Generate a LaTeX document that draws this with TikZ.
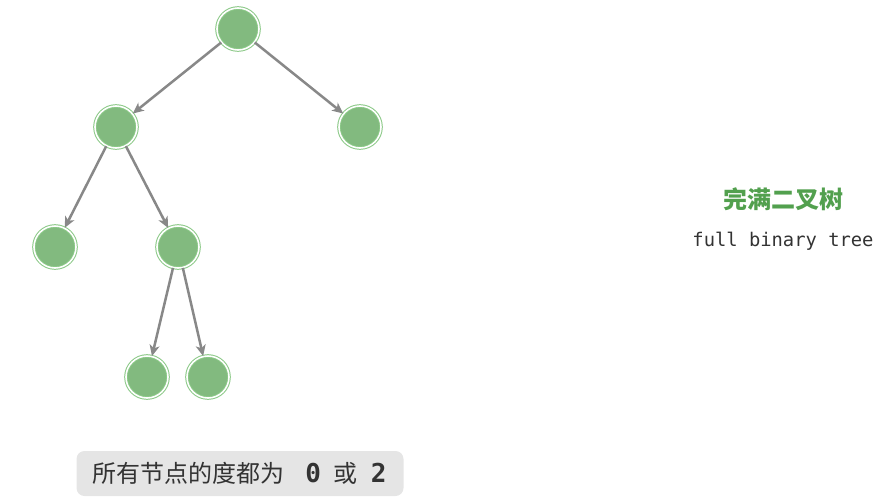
\documentclass[tikz,border=0pt]{standalone}
\usepackage{fontspec}
\setmainfont{Noto Sans CJK SC}
\setmonofont{DejaVu Sans Mono}
\definecolor{treegreen}{RGB}{130,186,127}
\definecolor{ringgreen}{RGB}{138,200,134}
\definecolor{titlegreen}{RGB}{82,160,78}
\definecolor{edgegray}{RGB}{136,136,136}
\definecolor{labelgray}{RGB}{229,229,229}
\definecolor{textgray}{RGB}{51,51,51}
\usetikzlibrary{positioning,arrows.meta}

\begin{document}
\begin{tikzpicture}[
    every node/.style={inner sep=0pt},
    tnode/.style={circle,fill=treegreen,draw=ringgreen,double=white,
        double distance=1.6pt,line width=1pt,minimum size=42pt},
    tedge/.style={draw=edgegray,line width=2.5pt,
        -{Stealth[length=11pt,width=10pt,inset=3pt]}},
    on grid
    ]
    \useasboundingbox (0pt,0pt) rectangle (884pt,-501pt);

    \node (n1) [tnode] at (238pt,-29pt) {};
    \node (n2) [tnode,below left=98pt and 122pt of n1] {};
    \node (n3) [tnode,below right=98pt and 122pt of n1] {};
    \node (n4) [tnode,below left=120pt and 61pt of n2] {};
    \node (n5) [tnode,below right=120pt and 62pt of n2] {};
    \node (n6) [tnode,below left=130pt and 31pt of n5] {};
    \node (n7) [tnode,below right=130pt and 30pt of n5] {};

    % the edges
    \draw[tedge] (n1) -- (n2);
    \draw[tedge] (n1) -- (n3);
    \draw[tedge] (n2) -- (n4);
    \draw[tedge] (n2) -- (n5);
    \draw[tedge] (n5) -- (n6);
    \draw[tedge] (n5) -- (n7);

    % title
    \node (title) [text=titlegreen,font=\fontsize{24pt}{28pt}\selectfont\bfseries]
        at (783pt,-199pt) {完满二叉树};
    \node (sub) [text=textgray,font=\fontsize{18.8pt}{22pt}\selectfont\ttfamily,
        below=42pt of title] {full binary tree};

    % note
    \node (note) [fill=labelgray,rounded corners=8pt,text=textgray,
        minimum width=327pt,minimum height=45pt,
        font=\fontsize{24pt}{28pt}\selectfont]
        at (240pt,-473.5pt) {所有节点的度都为\hspace{20pt}\makebox[18pt]{\fontsize{26pt}{28pt}\selectfont\ttfamily\bfseries 0}\hspace{11pt}或\hspace{12.5pt}\makebox[18pt]{\fontsize{26pt}{28pt}\selectfont\ttfamily\bfseries 2}};
\end{tikzpicture}
\end{document}
